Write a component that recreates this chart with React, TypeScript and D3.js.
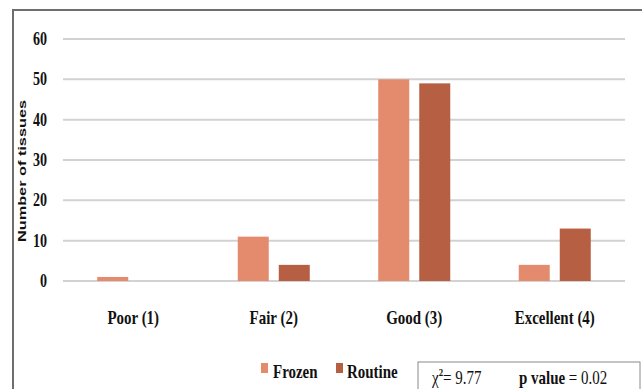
import React from "react";
import * as d3 from "d3";

const categories = ["Poor (1)", "Fair (2)", "Good (3)", "Excellent (4)"];
const seriesNames = ["Frozen", "Routine"];
const frozenValues = [1, 11, 50, 4];
const routineValues = [0, 4, 49, 13];
const yTicks = [0, 10, 20, 30, 40, 50, 60];
const colors = ["#E48A6D", "#B65F42"];
const yTitle = "Number of tissues";
const chiText = "9.77";
const pText = "0.02";

const serif = "Liberation Serif, DejaVu Serif, serif";

function CondText(props: { x: number; y: number; anchor?: string; size: number; bold?: boolean; children: React.ReactNode }) {
  const sx = 0.88;
  const sy = 1.12;
  return (
    <text
      transform={`translate(${props.x},${props.y}) scale(${sx},${sy})`}
      textAnchor={props.anchor ?? "start"}
      style={{ fontFamily: serif, fontWeight: props.bold ? 700 : 400, fontSize: props.size }}
      fill="#111"
    >
      {props.children}
    </text>
  );
}

export default function App() {
  const W = 642;
  const H = 389;
  const x0 = d3.scaleBand<string>().domain(categories).range([63, 625]).paddingInner(0).paddingOuter(0);
  const x1 = d3.scaleBand<string>().domain(seriesNames).range([0, x0.bandwidth()]).paddingInner(0.244).paddingOuter(0.835);
  const y = d3.scaleLinear().domain([0, 60]).range([281, 39]);
  const values = [frozenValues, routineValues];
  return (
    <svg width={W} height={H} style={{ position: "absolute", left: 0, top: 0, background: "#fff" }}>
      <rect x={13} y={10} width={700} height={500} fill="#fff" stroke="#6e6e6e" strokeWidth={2} />
      {yTicks.map((t) => (
        <g key={t}>
          <line x1={63} x2={625} y1={y(t)} y2={y(t)} stroke="#d2d2d2" strokeWidth={2} />
          <CondText x={47} y={y(t) + 6} anchor="end" size={16} bold>
            {t}
          </CondText>
        </g>
      ))}
      <text
        transform={`translate(26,171) rotate(-90)`}
        textAnchor="middle"
        style={{ fontFamily: "Liberation Sans, Arial, sans-serif", fontWeight: 700, fontSize: 11 }}
        textLength={142}
        lengthAdjust="spacingAndGlyphs"
        fill="#111"
      >
        {yTitle}
      </text>
      {categories.map((c, i) => (
        <g key={c}>
          {seriesNames.map((s, j) => {
            const v = values[j][i];
            if (v <= 0) return null;
            return (
              <rect
                key={s}
                x={(x0(c) ?? 0) + (x1(s) ?? 0)}
                y={y(v)}
                width={x1.bandwidth()}
                height={y(0) - y(v)}
                fill={colors[j]}
              />
            );
          })}
          <CondText x={(x0(c) ?? 0) + x0.bandwidth() / 2} y={324} anchor="middle" size={17} bold>
            {c}
          </CondText>
        </g>
      ))}
      <rect x={261} y={363} width={7} height={10} fill={colors[0]} />
      <CondText x={273} y={378} size={17} bold>
        {seriesNames[0]}
      </CondText>
      <rect x={336} y={363} width={7} height={10} fill={colors[1]} />
      <CondText x={347} y={378} size={17} bold>
        {seriesNames[1]}
      </CondText>
      <rect x={418} y={362} width={222} height={60} fill="#fff" stroke="#8a8a8a" strokeWidth={1} />
      <CondText x={432} y={384} size={17}>
        <tspan>χ</tspan>
        <tspan dy={-7} fontSize={10} fontWeight="bold">2</tspan>
        <tspan dy={7}>{`= ${chiText}`}</tspan>
      </CondText>
      <CondText x={519} y={384} size={17}>
        <tspan fontWeight="bold">p value</tspan>
        <tspan>{` = ${pText}`}</tspan>
      </CondText>
    </svg>
  );
}
